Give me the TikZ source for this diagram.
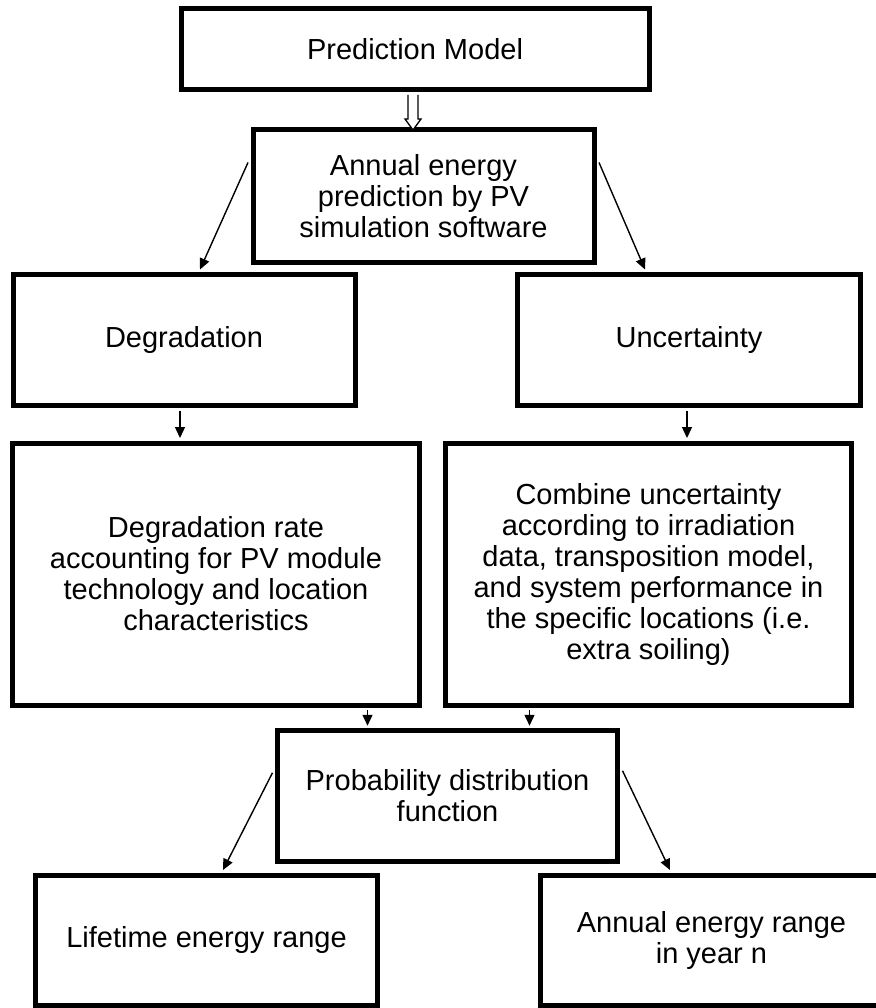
\documentclass[tikz,border=0pt]{standalone}
\usepackage{fontspec}
\setmainfont{Liberation Sans}
\usetikzlibrary{arrows.meta,calc}
\begin{document}
\begin{tikzpicture}[x=1pt,y=-1pt,
  box/.style={draw=black,line width=5pt,rectangle,inner sep=0pt,align=center,
    font=\fontsize{29}{31}\selectfont},
  arr/.style={draw=black,line width=1.4pt,-{Triangle[length=11pt,width=10pt]}},
  hollow/.style={draw=black,line width=1.3pt,fill=white}]
\useasboundingbox (0,0) rectangle (875,1008);
\fill[white] (0,0) rectangle (875,1008);
\node[box,minimum width=468pt,minimum height=81pt] (top) at (415,49.5) {Prediction Model};
\node[box,minimum width=341pt,minimum height=132pt] (ann) at (423.5,196) {Annual energy\\prediction by PV\\simulation software};
\node[box,minimum width=342pt,minimum height=131pt] (deg) at (184,340) {Degradation};
\node[box,minimum width=342.5pt,minimum height=131pt] (unc) at (689,340) {Uncertainty};
\node[box,minimum width=407pt,minimum height=262pt] (rate) at (216,574) {Degradation rate\\accounting for PV module\\technology and location\\characteristics};
\node[box,minimum width=406pt,minimum height=262pt] (comb) at (648.5,574) {Combine uncertainty\\according to irradiation\\data, transposition model,\\and system performance in\\the specific locations (i.e.\\extra soiling)};
\node[box,minimum width=340pt,minimum height=130.5pt] (prob) at (447.5,796) {Probability distribution\\function};
\node[box,minimum width=342pt,minimum height=130pt] (life) at (206.5,940) {Lifetime energy range};
\node[box,minimum width=342pt,minimum height=130pt] (annr) at (711.5,940) {Annual energy range\\in year n};
% hollow arrow
\coordinate (h) at ($(top.south)+(-2,2.5)$);
\draw[hollow] ($(h)+(-5,0)$) -- ($(h)+(-5,24)$) -- ($(h)+(-8,24)$) -- ($(h)+(0,35)$)
  -- ($(h)+(8,24)$) -- ($(h)+(5,24)$) -- ($(h)+(5,0)$);
% connectors
\draw[arr] ($(ann.north west)+(-2.5,35)$) -- ($(deg.north)+(16,-2.5)$);
\draw[arr] ($(ann.north east)+(2.5,35)$) -- ($(unc.north)+(-44,-2.5)$);
\draw[arr] ($(deg.south)+(-4,2.5)$) -- ($(deg.south |- rate.north)+(-4,-2.5)$);
\draw[arr] ($(unc.south)+(-2,2.5)$) -- ($(unc.south |- comb.north)+(-2,-2.5)$);
\draw[arr] ($(rate.south east)+(-54.5,2.5)$) -- ($(rate.south east |- prob.north)+(-54.5,-2.5)$);
\draw[arr] ($(comb.south west)+(86.5,2.5)$) -- ($(comb.south west |- prob.north)+(86.5,-2.5)$);
\draw[arr] ($(prob.north west)+(-2.5,44.5)$) -- ($(life.north)+(16.5,-2.5)$);
\draw[arr] ($(prob.north east)+(2.5,42.5)$) -- ($(annr.north)+(-41.5,-2.5)$);
\end{tikzpicture}
\end{document}
